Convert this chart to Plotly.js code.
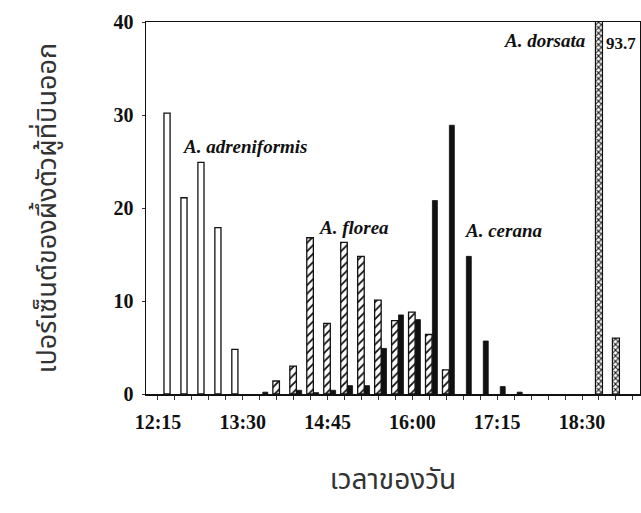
<!DOCTYPE html>
<html>
<head>
<meta charset="utf-8">
<script src="https://cdn.plot.ly/plotly-3.0.1.min.js"></script>
<style>html,body{margin:0;padding:0;background:#fff}#chart{width:641px;height:513px}</style>
</head>
<body>
<div id="chart"></div>
<script>
// Time slots (15-minute steps)
const slots = ["12:15","12:30","12:45","13:00","13:15","13:30","13:45","14:00","14:15","14:30",
               "14:45","15:00","15:15","15:30","15:45","16:00","16:15","16:30","16:45","17:00",
               "17:15","17:30","17:45","18:00","18:15","18:30","18:45","19:00","19:15"];
const tickLabels = ["12:15","13:30","14:45","16:00","17:15","18:30"];

// Percent of drones flying out, per slot (null = no bar)
const adreniformis = [30.2,21.1,24.9,17.9,4.8,null,null,null,null,null,null,null,null,null,null,null,null,null,null,null,null,null,null,null,null,null,null,null,null];
const florea       = [null,null,null,null,null,null,null,1.4,3.0,16.8,7.6,16.3,14.8,10.1,7.9,8.8,6.4,2.6,null,null,null,null,null,null,null,null,null,null,null];
const cerana       = [null,null,null,null,null,null,0.2,null,0.4,0.15,0.4,0.9,0.9,4.9,8.5,8.0,20.8,28.9,14.8,5.7,0.8,0.2,null,null,null,null,null,null,null];
const dorsata      = [null,null,null,null,null,null,null,null,null,null,null,null,null,null,null,null,null,null,null,null,null,null,null,null,null,null,93.7,6.0,null];

const speciesNames = ["A. adreniformis","A. florea","A. cerana","A. dorsata"];
const dorsataPeakLabel = "93.7";

const toMin = s => { const [h,m] = s.split(":").map(Number); return h*60+m; };
const xs = slots.map(toMin);

const serif = "Liberation Serif, Times New Roman, serif";
const thai = "Noto Sans Thai, Noto Sans, DejaVu Sans, sans-serif";

const traces = [
  {type:"bar", name:speciesNames[0], x:xs, y:adreniformis, width:5.4, offset:5.3,
   marker:{color:"#ffffff", line:{color:"#111", width:1.3}}},
  {type:"bar", name:speciesNames[1], x:xs, y:florea, width:5.8, offset:-3.4,
   marker:{color:"#ffffff", line:{color:"#111", width:1.3},
           pattern:{shape:"/", size:6, solidity:0.3, fgcolor:"#111", bgcolor:"#ffffff"}}},
  {type:"bar", name:speciesNames[2], x:xs, y:cerana, width:4.4, offset:2.7,
   marker:{color:"#111111", line:{color:"#111", width:0.8}}},
  {type:"bar", name:speciesNames[3], x:xs, y:dorsata, width:6.2, offset:-3.1,
   marker:{color:"#ffffff", line:{color:"#111", width:1.2},
           pattern:{shape:"x", size:4, solidity:0.45, fgcolor:"#111", bgcolor:"#ffffff"}}}
];

const lab = (text, x, y, xanchor) => ({text, x, y, xref:"x", yref:"y", xanchor, yanchor:"middle",
  showarrow:false, font:{family:serif, size:19, color:"#111", style:"italic", weight:"bold"}});

const layout = {
  width:641, height:513,
  margin:{l:146, r:1, t:22, b:119},
  paper_bgcolor:"#fff", plot_bgcolor:"#fff",
  showlegend:false,
  barmode:"overlay",
  xaxis:{
    range:[724.4, 1161.3],
    tickmode:"array", tickvals:xs,
    ticktext:slots.map(s => tickLabels.includes(s) ? s : ""),
    ticks:"outside", ticklen:4, tickwidth:1, tickcolor:"#333",
    ticklabelstandoff:5,
    showline:true, linecolor:"#111", linewidth:1.5, mirror:true,
    showgrid:false, zeroline:false,
    tickfont:{family:serif, size:20, color:"#111", weight:"bold"},
    title:{text:"เวลาของวัน", standoff:38, font:{family:thai, size:28, color:"#333"}}
  },
  yaxis:{
    range:[0,40], dtick:10,
    ticks:"outside", ticklen:3, tickcolor:"#333",
    ticklabelstandoff:4,
    showline:true, linecolor:"#111", linewidth:1.5, mirror:true,
    showgrid:false, zeroline:false,
    tickfont:{family:serif, size:20, color:"#111", weight:"bold"},
    title:{text:"เปอร์เซ็นต์ของผึ้งตัวผู้ที่บินออก", standoff:49, font:{family:thai, size:27, color:"#333"}}
  },
  annotations:[
    lab(speciesNames[0], 755.3, 26.6, "left"),
    lab(speciesNames[1], 875.6, 17.85, "left"),
    lab(speciesNames[2], 1004.7, 17.6, "left"),
    lab(speciesNames[3], 1115.3, 38.0, "right"),
    {text:dorsataPeakLabel, x:1129.5, y:37.7, xref:"x", yref:"y", xanchor:"left", yanchor:"middle",
     showarrow:false, font:{family:serif, size:17, color:"#111", weight:"bold"}}
  ]
};

Plotly.newPlot("chart", traces, layout, {displayModeBar:false, staticPlot:true});
</script>
</body>
</html>
